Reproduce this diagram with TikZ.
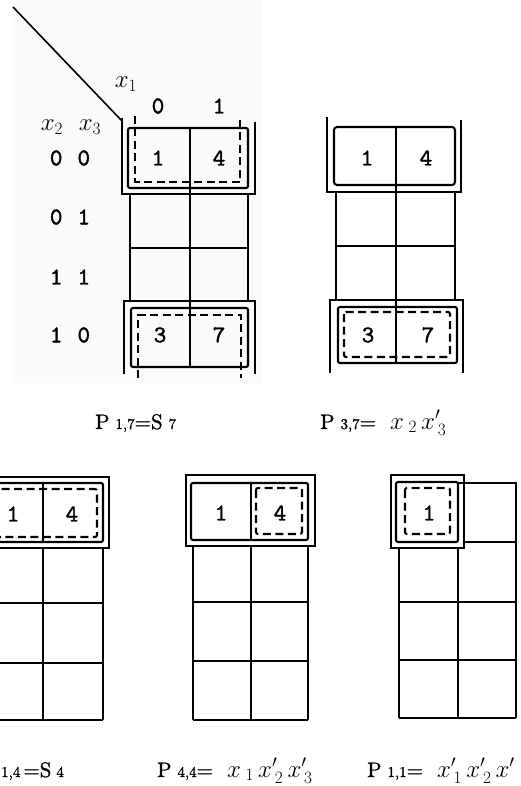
\documentclass[tikz,border=0pt]{standalone}
\usepackage{fontspec}
\newfontfamily\celltt{lmmono10-regular.otf}[FakeBold=1.6]
\newfontfamily\capfont{lmroman10-regular.otf}[FakeBold=1.2]
\begin{document}
\begin{tikzpicture}[x=1pt,y=-1pt,
  ln/.style={line width=2.1pt},
  dsh/.style={line width=2.1pt, dash pattern=on 8pt off 4.5pt},
  cellnum/.style={font=\fontsize{24}{24}\selectfont\celltt, inner sep=0pt},
  varlab/.style={font=\fontsize{23}{23}\selectfont, inner sep=0pt},
  captxt/.style={font=\fontsize{21}{21}\selectfont\capfont, inner sep=0pt, anchor=base west}]
\newcommand{\capsm}{\fontsize{15}{15}\selectfont}
\newcommand{\capmath}{\fontsize{24}{24}\selectfont}
\clip (0,0) rectangle (520,786);
\fill[black!2] (12,0) rectangle (262,383);

% ---------------- map 1 ----------------
\draw[ln] (130,194) -- (130,301) (248,194) -- (248,301) (190,128) -- (190,367) (130,248) -- (248,248);
\draw[ln, rounded corners=2pt] (128,128) rectangle (248,188);
\draw[ln] (122,118) -- (122,194) -- (255,194) -- (255,122);
\draw[dsh] (135,116) -- (135,182) -- (240,182) -- (240,116);
\draw[ln] (124,374) -- (124,301) -- (255,301) -- (255,374);
\draw[ln, rounded corners=2pt] (131,308) rectangle (248,367);
\draw[dsh] (138,378) -- (138,315) -- (241,315) -- (241,378);
\coordinate (d0) at (13,7);
\coordinate (d1) at (122,121);
\draw[line width=1.6pt] (d0) -- (d1);

\node[varlab] (x1) at (126,84) {$x_1$};
\node[cellnum] (h0) at (158,106) {0};
\node[cellnum] (h1) at (219,106) {1};
\node[varlab] (x2) at (52,127) {$x_2$};
\node[varlab] (x3) at (90,127) {$x_3$};
\node[cellnum] (r0) at (70,158) {0\hspace{15pt}0};
\node[cellnum] (r1) at (70,217) {0\hspace{15pt}1};
\node[cellnum] (r2) at (70,277) {1\hspace{15pt}1};
\node[cellnum] (r3) at (70,335) {1\hspace{15pt}0};
\node[cellnum] (a1) at (158,158) {1};
\node[cellnum] (a4) at (219,158) {4};
\node[cellnum] (a3) at (160,335) {3};
\node[cellnum] (a7) at (219,335) {7};
\node[captxt] (c1) at (95,429) {P\hspace{6pt}{\capsm 1,7}=S\hspace{6pt}{\capsm 7}};

% ---------------- map 2 ----------------
\draw[ln] (336,192) -- (336,300) (455,192) -- (455,300) (396,127) -- (396,363) (336,246) -- (455,246);
\draw[ln, rounded corners=3pt] (334,127) rectangle (455,185);
\draw[ln] (327,117) -- (327,192) -- (461,192) -- (461,120);
\draw[ln] (330,373) -- (330,300) -- (463,300) -- (463,373);
\draw[ln, rounded corners=2pt] (338,307) rectangle (457,363);
\draw[dsh, rounded corners=2pt] (344,312) rectangle (450,357);
\node[cellnum] (b1) at (367,158) {1};
\node[cellnum] (b4) at (426,158) {4};
\node[cellnum] (b3) at (368,335) {3};
\node[cellnum] (b7) at (428,335) {7};
\node[captxt] (c2) at (320,429) {P\hspace{6pt}{\capsm 3,7}=\hspace{14pt}{\capmath$x_{\;2}\,x'_{\,3}$}};

% ---------------- map 3 ----------------
\draw[ln] (43,548) -- (43,720) (103,548) -- (103,720)
  (-17,603) -- (103,603) (-17,663) -- (103,663) (-17,720) -- (103,720);
\draw[ln] (-25,477) rectangle (109,548);
\draw[ln, rounded corners=2pt] (-18,483) rectangle (103,542);
\draw[ln] (43,483) -- (43,542);
\draw[dsh, rounded corners=2pt] (-12,489) rectangle (97,537);
\node[cellnum] (e1) at (13,514) {1};
\node[cellnum] (e4) at (72,514) {4};
\node[captxt] (c3) at (1,777) {{\capsm 1,4}\hspace{3pt}=S\hspace{5pt}{\capsm 4}};

% ---------------- map 4 ----------------
\draw[ln] (193,546) -- (193,720) (251,546) -- (251,720) (308,546) -- (308,720)
  (193,602) -- (308,602) (193,661) -- (308,661) (193,720) -- (308,720);
\draw[ln] (186,475) rectangle (315,546);
\draw[ln, rounded corners=2pt] (191,483) rectangle (308,540);
\draw[ln] (251,483) -- (251,540);
\draw[dsh, rounded corners=2pt] (256,488) rectangle (302,534);
\node[cellnum] (f1) at (221,513) {1};
\node[cellnum] (f4) at (280,513) {4};
\node[captxt] (c4) at (157,777) {P\hspace{6pt}{\capsm 4,4}=\hspace{14pt}{\capmath$x_{\;1}\,x'_{\,2}\,x'_{\,3}$}};

% ---------------- map 5 ----------------
\draw[ln] (458,483) -- (516,483) -- (516,718) (464,542) -- (516,542)
  (399,548) -- (399,718) (458,548) -- (458,718)
  (399,602) -- (516,602) (399,660) -- (516,660) (399,718) -- (516,718);
\draw[ln] (391,475) rectangle (464,548);
\draw[ln, rounded corners=2pt] (396,482) rectangle (458,542);
\draw[dsh, rounded corners=2pt] (405,488) rectangle (450,534);
\node[cellnum] (g1) at (429,513) {1};
\node[captxt] (c5) at (367,777) {P\hspace{6pt}{\capsm 1,1}=\hspace{14pt}{\capmath$x'_{\,1}\,x'_{\,2}\,x'$}};
\end{tikzpicture}
\end{document}
